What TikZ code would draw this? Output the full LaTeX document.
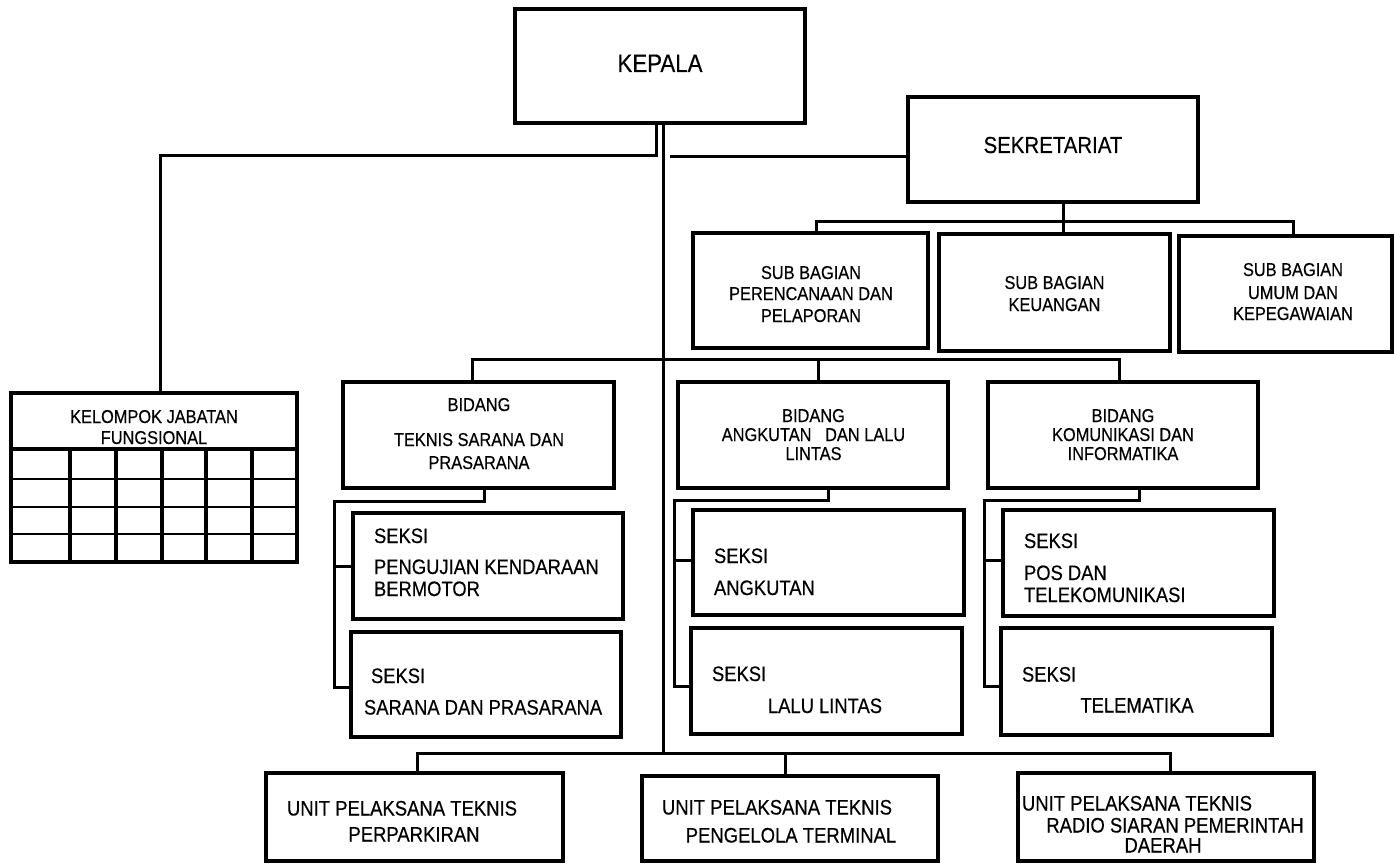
\documentclass[tikz,border=0pt]{standalone}
\usepackage{fontspec}
\setmainfont[FakeStretch=0.88,FakeBold=0.4]{Liberation Sans}
\newcommand\fKep{\fontsize{25.3}{30}\selectfont}
\newcommand\fSek{\fontsize{23.2}{28}\selectfont}
\newcommand\fSub{\fontsize{18.6}{22}\selectfont}
\newcommand\fSeksi{\fontsize{20.9}{25}\selectfont}
\newcommand\fUpt{\fontsize{21}{25}\selectfont}
% a box given by its left, top, right and bottom edges
\newcommand\orgbox[5]{\node[box, minimum width={#4-#2}, minimum height={#5-#3}] (#1) at ({(#2+#4)/2},{(#3+#5)/2}) {};}
% one line of text: name, style, x, baseline, font, text
\newcommand\txtline[6]{\node[#2, font=#5] (#1) at (#3,#4) {#6};}
\begin{document}
\begin{tikzpicture}[x=1pt,y=-1pt,
  box/.style={draw, line width=3.6pt, inner sep=0pt, outer sep=0pt},
  conn/.style={line width=3pt, line join=miter},
  cc/.style={inner sep=0pt, outer sep=0pt, anchor=base},
  ww/.style={inner sep=0pt, outer sep=0pt, anchor=base west}]
\fill[white] (0,0) rectangle (1395,864);
\path[use as bounding box] (0,0) rectangle (1395,864);

% boxes
\orgbox{kepala}{515}{9}{805}{123}
\orgbox{sekr}{908}{97}{1198}{202}
\orgbox{sub1}{693}{233}{928}{348}
\orgbox{sub2}{939}{234}{1170}{351}
\orgbox{sub3}{1179}{236}{1392}{352}
\orgbox{kjf}{11}{393}{297}{562}
\orgbox{bid1}{343}{382}{614}{488}
\orgbox{bid2}{678}{382}{948}{488}
\orgbox{bid3}{988}{382}{1258}{488}
\orgbox{s1a}{353}{513}{623}{619}
\orgbox{s1b}{351}{632}{621}{737}
\orgbox{s2a}{693}{510}{964}{615}
\orgbox{s2b}{691}{628}{962}{734}
\orgbox{s3a}{1003}{510}{1274}{616}
\orgbox{s3b}{1001}{628}{1272}{735}
\orgbox{upt1}{266}{773}{563}{861}
\orgbox{upt2}{642}{776}{938}{861}
\orgbox{upt3}{1018}{773}{1314}{861}

% grid of the functional group table
\draw[line width=3.4pt] (kjf.west |- 0,449) -- (kjf.east |- 0,449);
\foreach \gx in {70,116,162,206,252}
  \draw[line width=3.4pt] (\gx,449) -- (\gx,562);
\foreach \gy in {479,507,534}
  \draw[line width=2.2pt] (kjf.west |- 0,\gy) -- (kjf.east |- 0,\gy);

% connectors
\coordinate (kA) at (656,156);
\coordinate (kB) at (160,156);
\draw[conn] (kepala.south -| kA) -- (kA) -- (kB) -- (kB |- kjf.north);
\coordinate (trunk) at (663,753);
\draw[conn] (kepala.south -| trunk) -- (trunk);
\coordinate (sL) at (670,157);
\draw[conn] (sL) -- (sL -| sekr.west);

\coordinate (sbL) at (816,221);
\coordinate (sbM) at (1063,221);
\coordinate (sbR) at (1293,221);
\draw[conn] (sekr.south -| sbM) -- (sbM);
\draw[conn] (sub1.north -| sbL) -- (sbL) -- (sbR) -- (sbR |- sub3.north);
\draw[conn] (sbM) -- (sbM |- sub2.north);

\coordinate (bbL) at (472,359);
\coordinate (bbM) at (818,359);
\coordinate (bbR) at (1119,359);
\draw[conn] (bid1.north -| bbL) -- (bbL) -- (bbR) -- (bbR |- bid3.north);
\draw[conn] (bbM) -- (bbM |- bid2.north);

\coordinate (c1a) at (484,501);
\coordinate (c1b) at (334,501);
\coordinate (c1c) at (334,687);
\draw[conn] (bid1.south -| c1a) -- (c1a) -- (c1b) -- (c1c) -- (c1c -| s1b.west);
\draw[conn] (c1b |- s1a.west) -- (s1a.west);

\coordinate (c2a) at (828,500);
\coordinate (c2b) at (674,500);
\coordinate (c2c) at (674,686);
\draw[conn] (bid2.south -| c2a) -- (c2a) -- (c2b) -- (c2c) -- (c2c -| s2b.west);
\draw[conn] (c2b |- 0,560) -- (s2a.west |- 0,560);

\coordinate (c3a) at (1139,500);
\coordinate (c3b) at (984,500);
\coordinate (c3c) at (984,686);
\draw[conn] (bid3.south -| c3a) -- (c3a) -- (c3b) -- (c3c) -- (c3c -| s3b.west);
\draw[conn] (c3b |- 0,560) -- (s3a.west |- 0,560);

\coordinate (ubL) at (417,753);
\coordinate (ubM) at (785,753);
\coordinate (ubR) at (1170,753);
\draw[conn] (upt1.north -| ubL) -- (ubL) -- (ubR) -- (ubR |- upt3.north);
\draw[conn] (ubM) -- (ubM |- upt2.north);

% texts
\txtline{tKepala}{cc}{660}{72}{\fKep}{KEPALA}
\txtline{tSekr}{cc}{1053}{153}{\fSek}{SEKRETARIAT}

\txtline{tSub1a}{cc}{811}{279}{\fSub}{SUB BAGIAN}
\txtline{tSub1b}{cc}{811}{300}{\fSub}{PERENCANAAN DAN}
\txtline{tSub1c}{cc}{811}{322}{\fSub}{PELAPORAN}
\txtline{tSub2a}{cc}{1054.5}{289}{\fSub}{SUB BAGIAN}
\txtline{tSub2b}{cc}{1054.5}{311}{\fSub}{KEUANGAN}
\txtline{tSub3a}{cc}{1293}{276}{\fSub}{SUB BAGIAN}
\txtline{tSub3b}{cc}{1293}{299}{\fSub}{UMUM DAN}
\txtline{tSub3c}{cc}{1293}{320}{\fSub}{KEPEGAWAIAN}

\txtline{tKjfa}{cc}{154}{423}{\fSub}{KELOMPOK JABATAN}
\txtline{tKjfb}{cc}{154}{444}{\fSub}{FUNGSIONAL}

\txtline{tBid1a}{cc}{479}{411}{\fSub}{BIDANG}
\txtline{tBid1b}{cc}{479}{446}{\fSub}{TEKNIS SARANA DAN}
\txtline{tBid1c}{cc}{479}{469}{\fSub}{PRASARANA}
\txtline{tBid2a}{cc}{813.5}{422}{\fSub}{BIDANG}
\txtline{tBid2b}{cc}{813.5}{441}{\fSub}{ANGKUTAN\ \ \ DAN LALU}
\txtline{tBid2c}{cc}{813.5}{460}{\fSub}{LINTAS}
\txtline{tBid3a}{cc}{1123}{422}{\fSub}{BIDANG}
\txtline{tBid3b}{cc}{1123}{441}{\fSub}{KOMUNIKASI DAN}
\txtline{tBid3c}{cc}{1123}{460}{\fSub}{INFORMATIKA}

\txtline{tS1aa}{ww}{374}{543}{\fSeksi}{SEKSI}
\txtline{tS1ab}{ww}{374}{574}{\fSeksi}{PENGUJIAN KENDARAAN}
\txtline{tS1ac}{ww}{374}{596}{\fSeksi}{BERMOTOR}
\txtline{tS1ba}{ww}{371}{683}{\fSeksi}{SEKSI}
\txtline{tS1bb}{ww}{364}{714.5}{\fSeksi}{SARANA DAN PRASARANA}
\txtline{tS2aa}{ww}{714}{563}{\fSeksi}{SEKSI}
\txtline{tS2ab}{ww}{714}{595}{\fSeksi}{ANGKUTAN}
\txtline{tS2ba}{ww}{712}{681}{\fSeksi}{SEKSI}
\txtline{tS2bb}{cc}{825}{713}{\fSeksi}{LALU LINTAS}
\txtline{tS3aa}{ww}{1024}{548}{\fSeksi}{SEKSI}
\txtline{tS3ab}{ww}{1024}{580}{\fSeksi}{POS DAN}
\txtline{tS3ac}{ww}{1024}{602}{\fSeksi}{TELEKOMUNIKASI}
\txtline{tS3ba}{ww}{1022}{681.5}{\fSeksi}{SEKSI}
\txtline{tS3bb}{cc}{1137}{712.5}{\fSeksi}{TELEMATIKA}

\txtline{tU1a}{ww}{287}{815.5}{\fUpt}{UNIT PELAKSANA TEKNIS}
\txtline{tU1b}{cc}{414}{841.5}{\fUpt}{PERPARKIRAN}
\txtline{tU2a}{ww}{662}{814.5}{\fUpt}{UNIT PELAKSANA TEKNIS}
\txtline{tU2b}{cc}{791}{842.5}{\fUpt}{PENGELOLA TERMINAL}
\txtline{tU3a}{ww}{1022}{810.5}{\fUpt}{UNIT PELAKSANA TEKNIS}
\txtline{tU3b}{cc}{1175}{832.5}{\fUpt}{RADIO SIARAN PEMERINTAH}
\txtline{tU3c}{cc}{1163}{852.5}{\fUpt}{DAERAH}
\end{tikzpicture}
\end{document}
